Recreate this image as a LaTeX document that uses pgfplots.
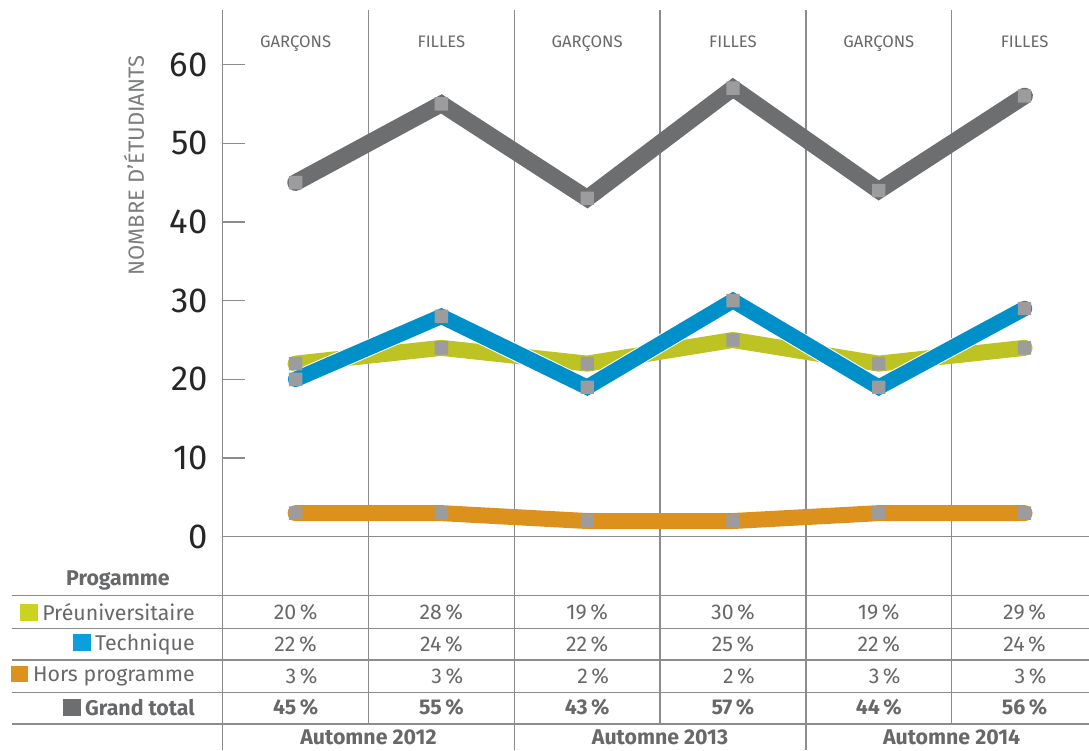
\documentclass[border=0pt]{standalone}
\usepackage{fontspec}
\setmainfont{Fira Sans}
\usepackage{pgfplots}
\pgfplotsset{compat=1.18}
\definecolor{cgreen}{HTML}{BDC322}
\definecolor{cblue}{HTML}{0090C9}
\definecolor{corange}{HTML}{DB911C}
\definecolor{cgrey}{HTML}{6D6E70}
\definecolor{cmark}{HTML}{9C9C9E}
\definecolor{ctext}{HTML}{67686A}
\definecolor{clab}{HTML}{7C7D7F}
\definecolor{cline}{HTML}{8C8C8C}
\definecolor{sqgreen}{HTML}{CBD21F}
\definecolor{sqblue}{HTML}{0BA0DC}
\definecolor{sqorange}{HTML}{DD921E}
\pgfdeclareplotmark{rsq}{%
  \pgfsetcornersarced{\pgfpoint{0.35\pgfplotmarksize}{0.35\pgfplotmarksize}}%
  \pgfpathmoveto{\pgfpoint{0pt}{-\pgfplotmarksize}}%
  \pgfpathlineto{\pgfpoint{\pgfplotmarksize}{-\pgfplotmarksize}}%
  \pgfpathlineto{\pgfpoint{\pgfplotmarksize}{\pgfplotmarksize}}%
  \pgfpathlineto{\pgfpoint{-\pgfplotmarksize}{\pgfplotmarksize}}%
  \pgfpathlineto{\pgfpoint{-\pgfplotmarksize}{-\pgfplotmarksize}}%
  \pgfpathclose
  \pgfusepathqfill}
\tikzset{
  tcell/.style={text=ctext, font=\fontsize{16}{16}\selectfont},
  bcell/.style={text=ctext, font=\fontsize{16}{16}\selectfont\bfseries},
  glab/.style={anchor=base, text=ctext, font=\fontsize{12.5}{12.5}\selectfont},
  rlab/.style={anchor=east, inner sep=0pt, text=ctext, font=\fontsize{16}{16}\selectfont},
  tl/.style={cline, line width=1.1pt},
}
\pgfplotsset{dmark/.style={mark=rsq, mark size=5pt, mark options={fill=cmark}}}
\newcommand{\sq}[1]{\textcolor{#1}{\rule[-0.5pt]{13pt}{12.5pt}}\hspace{3.5pt}}
\begin{document}
\begin{tikzpicture}
\begin{axis}[
  scale only axis, width=649.7pt, height=555pt,
  xmin=0, xmax=5.942, ymin=-27.10, ymax=66.93,
  axis x line=none, axis y line=left,
  axis line style={-, draw=cline, line width=1.1pt},
  xtick=\empty,
  ytick={0,10,...,60}, tick align=inside, major tick length=17pt,
  tick style={draw=cline, line width=0.9pt},
  /pgf/number format/assume math mode=true,
  yticklabel style={font=\fontsize{26}{26}\selectfont, text=black!85, inner sep=0pt, xshift=-11pt},
  clip=false,
]
% grid / table lines
\draw[tl] (axis cs:0,0) -- (axis cs:5.942,0);
\draw[tl] (axis cs:1,66.93) -- (axis cs:1,-23.80);
\draw[tl] (axis cs:3,66.93) -- (axis cs:3,-23.80);
\draw[tl] (axis cs:5,66.93) -- (axis cs:5,-23.80);
\draw[tl] (axis cs:2,66.93) -- (axis cs:2,-27.10);
\draw[tl] (axis cs:4,66.93) -- (axis cs:4,-27.10);
\draw[tl] (axis cs:-1.445,-7.497) -- (axis cs:5.942,-7.497);
\draw[tl] (axis cs:-1.445,-11.64) -- (axis cs:5.942,-11.64);
\draw[tl] (axis cs:-1.445,-15.67) -- (axis cs:5.942,-15.67);
\draw[tl] (axis cs:-1.445,-19.77) -- (axis cs:5.942,-19.77);
\draw[tl] (axis cs:-1.445,-23.80) -- (axis cs:5.942,-23.80);

% data lines
\addplot[corange, line width=12pt, line cap=round, line join=round, dmark]
  coordinates {(0.5,3) (1.5,3) (2.5,2) (3.5,2) (4.5,3) (5.5,3)};
\addplot[cgreen, line width=12pt, line cap=round, line join=round, dmark]
  coordinates {(0.5,22) (1.5,24) (2.5,22) (3.5,25) (4.5,22) (5.5,24)};
\addplot[white, line width=13pt, line cap=round, line join=miter]
  coordinates {(0.5,20) (1.5,28) (2.5,19) (3.5,30) (4.5,19) (5.5,29)};
\addplot[cblue, line width=11.5pt, line cap=round, line join=miter, dmark]
  coordinates {(0.5,20) (1.5,28) (2.5,19) (3.5,30) (4.5,19) (5.5,29)};
\addplot[cgrey, line width=12.5pt, line cap=round, line join=miter, dmark]
  coordinates {(0.5,45) (1.5,55) (2.5,43) (3.5,57) (4.5,44) (5.5,56)};

% labels
\node[rotate=90, text=clab, font=\fontsize{16.5}{16.5}\selectfont] at (axis cs:-0.608,47.17) {NOMBRE D’ÉTUDIANTS};
\node[glab] at (axis cs:0.5,62.22) {GARÇONS};
\node[glab] at (axis cs:1.5,62.22) {FILLES};
\node[glab] at (axis cs:2.5,62.22) {GARÇONS};
\node[glab] at (axis cs:3.5,62.22) {FILLES};
\node[glab] at (axis cs:4.5,62.22) {GARÇONS};
\node[glab] at (axis cs:5.5,62.22) {FILLES};

% table
\node[bcell] at (axis cs:-0.718,-5.50) {Progamme};
\node[rlab] at (axis cs:-0.190,-9.57) {\sq{sqgreen}Préuniversitaire};
\node[rlab] at (axis cs:-0.190,-13.63) {\sq{sqblue}Technique};
\node[rlab] at (axis cs:-0.190,-17.67) {\sq{sqorange}Hors programme};
\node[rlab, font=\fontsize{16}{16}\selectfont\bfseries] at (axis cs:-0.190,-21.71) {\sq{cgrey}Grand total};

\node[tcell] at (axis cs:0.5,-9.57) {20\,\%};
\node[tcell] at (axis cs:1.5,-9.57) {28\,\%};
\node[tcell] at (axis cs:2.5,-9.57) {19\,\%};
\node[tcell] at (axis cs:3.5,-9.57) {30\,\%};
\node[tcell] at (axis cs:4.5,-9.57) {19\,\%};
\node[tcell] at (axis cs:5.5,-9.57) {29\,\%};

\node[tcell] at (axis cs:0.5,-13.63) {22\,\%};
\node[tcell] at (axis cs:1.5,-13.63) {24\,\%};
\node[tcell] at (axis cs:2.5,-13.63) {22\,\%};
\node[tcell] at (axis cs:3.5,-13.63) {25\,\%};
\node[tcell] at (axis cs:4.5,-13.63) {22\,\%};
\node[tcell] at (axis cs:5.5,-13.63) {24\,\%};

\node[tcell] at (axis cs:0.5,-17.67) {\hphantom{0}3\,\%};
\node[tcell] at (axis cs:1.5,-17.67) {\hphantom{0}3\,\%};
\node[tcell] at (axis cs:2.5,-17.67) {\hphantom{0}2\,\%};
\node[tcell] at (axis cs:3.5,-17.67) {\hphantom{0}2\,\%};
\node[tcell] at (axis cs:4.5,-17.67) {\hphantom{0}3\,\%};
\node[tcell] at (axis cs:5.5,-17.67) {\hphantom{0}3\,\%};

\node[bcell] at (axis cs:0.5,-21.71) {45\,\%};
\node[bcell] at (axis cs:1.5,-21.71) {55\,\%};
\node[bcell] at (axis cs:2.5,-21.71) {43\,\%};
\node[bcell] at (axis cs:3.5,-21.71) {57\,\%};
\node[bcell] at (axis cs:4.5,-21.71) {44\,\%};
\node[bcell] at (axis cs:5.5,-21.71) {56\,\%};

\node[bcell, anchor=base, inner sep=0pt] at (axis cs:1,-26.35) {Automne 2012};
\node[bcell, anchor=base, inner sep=0pt] at (axis cs:3,-26.35) {Automne 2013};
\node[bcell, anchor=base, inner sep=0pt] at (axis cs:5,-26.35) {Automne 2014};

\coordinate (BL) at (axis cs:-1.5274,-27.10);
\coordinate (TR) at (axis cs:5.942,68.20);
\end{axis}
\pgfresetboundingbox
\path[use as bounding box] (BL) rectangle (TR);
\end{tikzpicture}
\end{document}
